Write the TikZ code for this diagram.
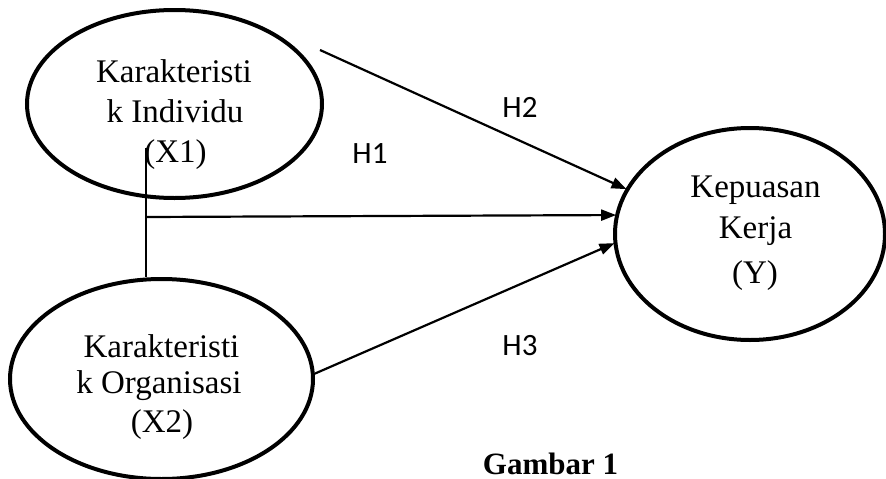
\documentclass[tikz,border=0pt]{standalone}
\usepackage{fontspec}
\setmainfont{Liberation Serif}
\newfontfamily\hfont{Carlito}
\usetikzlibrary{arrows.meta,shapes.geometric}
\tikzset{
  ell/.style={draw, ellipse, line width=4pt, inner sep=0pt},
  lbl/.style={anchor=base, inner sep=0pt, font=\fontsize{33}{38}\selectfont},
  hlbl/.style={anchor=center, inner sep=0pt, font=\hfont\fontsize{31}{36}\selectfont},
  conn/.style={line width=2.2pt},
  arr/.style={conn, -{Triangle[length=15pt,width=11pt]}, shorten >=-1pt}
}
\begin{document}
\begin{tikzpicture}[x=1pt,y=-1pt]
\useasboundingbox (0,0) rectangle (886,479);
% ellipses
\node[ell, minimum width=295pt, minimum height=188pt] (x1) at (174.5,104) {};
\node[ell, minimum width=303pt, minimum height=200pt] (x2) at (161.5,379) {};
\node[ell, minimum width=270pt, minimum height=212pt] (y) at (750,234) {};
% texts
\node[lbl] (x1a) at (174,82) {Karakteristi};
\node[lbl] (x1b) at (175,122) {k Individu};
\node[lbl] (x1c) at (175.5,162) {(X1)};
\node[lbl] (x2a) at (161.5,357) {Karakteristi};
\node[lbl] (x2b) at (159,393) {k Organisasi};
\node[lbl] (x2c) at (162,432) {(X2)};
\node[lbl] (ya) at (755.5,197) {Kepuasan};
\node[lbl] (yb) at (755.5,238) {Kerja};
\node[lbl] (yc) at (755,283) {(Y)};
\node[hlbl] (h2) at (520,107) {H2};
\node[hlbl] (h1) at (370,154) {H1};
\node[hlbl] (h3) at (520,346) {H3};
\node[lbl, text depth=0pt, font=\bfseries\fontsize{31}{36}\selectfont] (g) at (550.5,474) {Gambar 1};
% connectors
\coordinate (vtop) at (146,148);
\coordinate (hs) at (146,217);
\coordinate (h2s) at (320,50);
\draw[conn] (vtop) -- (vtop |- x2.north);
\draw[arr] (hs) -- (y.172.7);
\draw[arr] (h2s) -- (y.160);
\draw[arr] (x2.2.5) -- (y.184);
\end{tikzpicture}
\end{document}
